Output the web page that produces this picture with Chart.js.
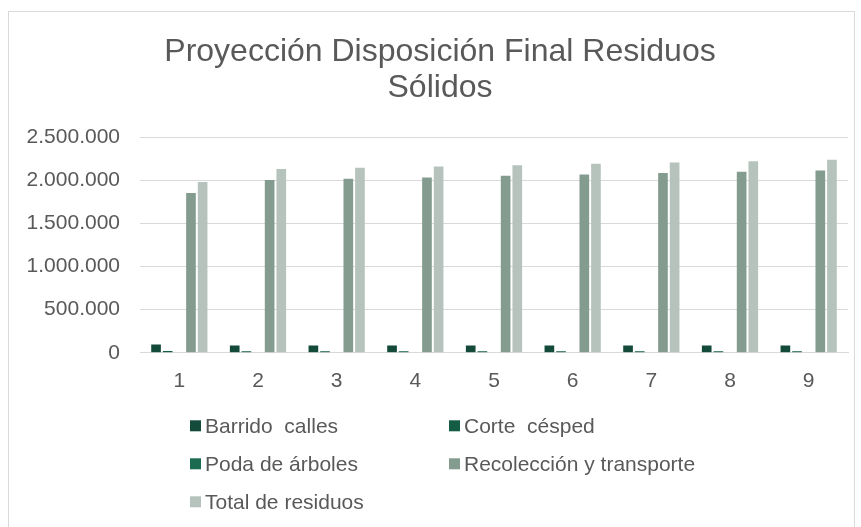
<!DOCTYPE html>
<html>
<head>
<meta charset="utf-8">
<script src="https://cdn.jsdelivr.net/npm/chart.js@4.4.1/dist/chart.umd.min.js"></script>
<style>
  html, body { margin: 0; padding: 0; background: #ffffff; }
  #wrap { width: 861px; height: 527px; position: relative; }
</style>
</head>
<body>
<div id="wrap"><canvas id="grafico"></canvas></div>
<script>
// 数据
const categorias = ['1', '2', '3', '4', '5', '6', '7', '8', '9'];
const barridoCalles = [95000, 85000, 85000, 85000, 85000, 85000, 85000, 85000, 85000];
const corteCesped = [22000, 17000, 17000, 17000, 17000, 17000, 17000, 17000, 17000];
const podaArboles = [6000, 6000, 6000, 6000, 6000, 6000, 6000, 6000, 6000];
const recoleccion = [1851000, 2001000, 2016000, 2032000, 2051000, 2067000, 2082000, 2097000, 2113000];
const totalResiduos = [1978000, 2128000, 2143000, 2159000, 2174000, 2189000, 2205000, 2220000, 2235000];
const ticksY = [0, 500000, 1000000, 1500000, 2000000, 2500000];

const gris = '#595959';
const fuente = "'Liberation Sans', Arial, sans-serif";

// 千位分隔符用点
function formatoMiles(v) {
    return String(v).replace(/\B(?=(\d{3})+(?!\d))/g, '.');
}

// 标题稍微向右移
const tituloPlugin = {
    id: 'tituloPlugin',
    afterLayout(chart) {
        if (chart.titleBlock) {
            chart.titleBlock.left += 22;
        }
    }
};

// 图例和外框
const leyendaPlugin = {
    id: 'leyendaPlugin',
    afterDraw(chart) {
        const ctx = chart.ctx;
        const area = chart.chartArea;
        ctx.save();
        // 外框
        ctx.strokeStyle = '#d9d9d9';
        ctx.lineWidth = 1;
        ctx.strokeRect(8.5, 11.5, 846, 530);
        // 图例：两列
        ctx.font = '21px ' + fuente;
        ctx.textBaseline = 'middle';
        const columnas = [190, 449];
        const filas = [area.bottom + 73, area.bottom + 111, area.bottom + 149];
        chart.data.datasets.forEach((ds, i) => {
            const x = columnas[i % 2];
            const y = filas[Math.floor(i / 2)];
            ctx.fillStyle = ds.backgroundColor;
            ctx.fillRect(x, y - 5.5, 11, 11);
            ctx.fillStyle = gris;
            ctx.fillText(ds.label, x + 15, y + 1);
        });
        ctx.restore();
    }
};

const chart = new Chart(document.getElementById('grafico'), {
    type: 'bar',
    data: {
        labels: categorias,
        datasets: [
            { label: 'Barrido  calles', data: barridoCalles, backgroundColor: '#134a39' },
            { label: 'Corte  césped', data: corteCesped, backgroundColor: '#145c44' },
            { label: 'Poda de árboles', data: podaArboles, backgroundColor: '#1b6b50' },
            { label: 'Recolección y transporte', data: recoleccion, backgroundColor: '#849c8f' },
            { label: 'Total de residuos', data: totalResiduos, backgroundColor: '#b6c3bc' }
        ]
    },
    options: {
        responsive: true,
        maintainAspectRatio: false,
        animation: false,
        layout: {
            padding: { left: 10, right: 13, top: 0, bottom: 117 }
        },
        datasets: {
            bar: { categoryPercentage: 0.74, barPercentage: 0.83 }
        },
        scales: {
            x: {
                grid: { display: false, drawTicks: false },
                border: { color: '#d9d9d9', width: 1 },
                ticks: {
                    color: gris,
                    font: { family: fuente, size: 21 },
                    padding: 16
                }
            },
            y: {
                min: 0,
                max: 2500000,
                afterFit: function(scale) { scale.width = 130; },
                afterBuildTicks: function(scale) {
                    scale.ticks = ticksY.map(v => ({ value: v }));
                },
                grid: { color: '#d9d9d9', lineWidth: 1, drawTicks: false },
                border: { display: false },
                ticks: {
                    color: gris,
                    font: { family: fuente, size: 21 },
                    padding: 20,
                    callback: function(value) {
                        return formatoMiles(value);
                    }
                }
            }
        },
        plugins: {
            legend: { display: false },
            tooltip: { enabled: false },
            title: {
                display: true,
                text: ['Proyección Disposición Final Residuos', 'Sólidos'],
                color: gris,
                font: { family: fuente, size: 32, weight: 'normal', lineHeight: 1.125 },
                padding: { top: 34, bottom: 31 }
            }
        }
    },
    plugins: [tituloPlugin, leyendaPlugin]
});
</script>
</body>
</html>
